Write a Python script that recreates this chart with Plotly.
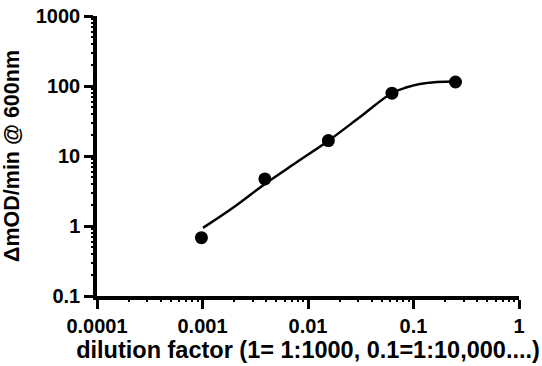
import plotly.graph_objects as go

# measured data points
dilution = [0.000977, 0.0039, 0.0156, 0.0625, 0.25]
rate = [0.68, 4.7, 16.6, 79, 114]

# fitted curve
fit_x = [0.00101, 0.00199, 0.0039, 0.00787, 0.0155, 0.0311, 0.0625, 0.0867, 0.115, 0.167, 0.253]
fit_y = [0.94, 1.87, 3.98, 8.2, 16.4, 36, 79.4, 95.8, 106.8, 114, 116]

x_ticks = [0.0001, 0.001, 0.01, 0.1, 1]
x_labels = ["0.0001", "0.001", "0.01", "0.1", "1"]
y_ticks = [0.1, 1, 10, 100, 1000]
y_labels = ["0.1", "1", "10", "100", "1000"]
minor_digits = [2, 3, 4, 5, 6, 7, 8, 9]

x_minor = [d * t for t in x_ticks[:-1] for d in minor_digits]
y_minor = [d * t for t in y_ticks[:-1] for d in minor_digits]

FONT = "Liberation Sans, Arial, sans-serif"
TICKFONT = dict(family=FONT, size=20, color="black", weight="bold")
XTITLEFONT = dict(family=FONT, size=23.5, color="black", weight="bold")
YTITLEFONT = dict(family=FONT, size=21.5, color="black", weight="bold")

fig = go.Figure()
fig.add_trace(go.Scatter(x=fit_x, y=fit_y, mode="lines",
                         line=dict(color="black", width=2.5, shape="spline"),
                         showlegend=False, hoverinfo="skip"))
fig.add_trace(go.Scatter(x=dilution, y=rate, mode="markers",
                         marker=dict(color="black", size=13),
                         showlegend=False))

major = dict(
    type="log", showline=True, linewidth=3.5, linecolor="black",
    ticks="outside", ticklen=9, tickwidth=3, tickcolor="black",
    showgrid=False, zeroline=False, mirror=False, automargin=False,
    tickfont=TICKFONT,
)
minor = dict(
    type="log", showline=False, ticks="outside", ticklen=5, tickwidth=2,
    tickcolor="black", showgrid=False, zeroline=False, showticklabels=False,
    automargin=False,
)

fig.update_layout(
    width=542, height=366,
    margin=dict(l=97, r=23, t=16, b=70),
    paper_bgcolor="white", plot_bgcolor="white",
    font=dict(family=FONT, color="black"),
    xaxis=dict(range=[-4, 0], tickvals=x_ticks, ticktext=x_labels,
               title=dict(text="dilution factor (1= 1:1000, 0.1=1:10,000....)",
                          font=XTITLEFONT, standoff=2), **major),
    yaxis=dict(range=[-1, 3], tickvals=y_ticks, ticktext=y_labels,
               title=dict(text="ΔmOD/min @ 600nm", font=YTITLEFONT, standoff=12), **major),
    xaxis2=dict(range=[-4, 0], tickvals=x_minor, overlaying="x", side="bottom",
                anchor="y", **minor),
    yaxis2=dict(range=[-1, 3], tickvals=y_minor, overlaying="y", side="left",
                anchor="x", **minor),
)
# invisible trace to activate the minor-tick axes
fig.add_trace(go.Scatter(x=[0.001], y=[1], xaxis="x2", yaxis="y2", mode="markers",
                         marker=dict(opacity=0), showlegend=False, hoverinfo="skip"))

fig.write_html("out.html")
